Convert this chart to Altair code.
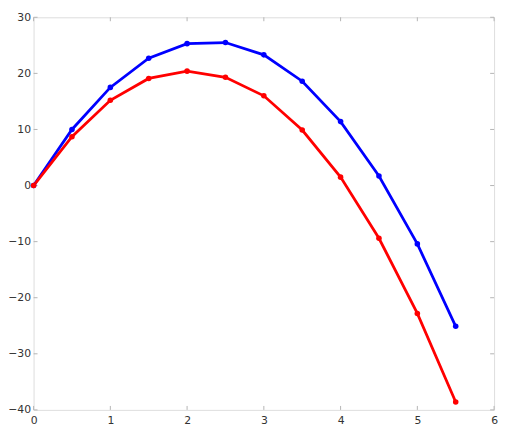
import altair as alt
import pandas as pd

x_vals = [0, 0.5, 1, 1.5, 2, 2.5, 3, 3.5, 4, 4.5, 5, 5.5]
blue_vals = [0, 10.0, 17.5, 22.7, 25.3, 25.5, 23.3, 18.6, 11.4, 1.7, -10.4, -25.1]
red_vals = [0, 8.7, 15.2, 19.1, 20.4, 19.3, 16.0, 9.9, 1.5, -9.4, -22.8, -38.6]
x_ticks = [0, 1, 2, 3, 4, 5, 6]
y_ticks = [-40, -30, -20, -10, 0, 10, 20, 30]

W, H = 468, 399
TL = 4

rows = []
for xv, b, r in zip(x_vals, blue_vals, red_vals):
    rows.append({"x": xv, "y": b, "s": "blue"})
    rows.append({"x": xv, "y": r, "s": "red"})
df = pd.DataFrame(rows)

xs = alt.Scale(domain=[0, 6], nice=False, zero=False)
ys = alt.Scale(domain=[-40, 30], nice=False, zero=False)
col = alt.Scale(domain=["blue", "red"], range=["#0000ff", "#ff0000"])

xax = alt.Axis(values=x_ticks, format="d", domain=False, ticks=False, grid=False, labelFontSize=11,
               labelColor="#333333", labelPadding=5, labelFont="DejaVu Sans", title=None, labelFlush=False)
yax = alt.Axis(values=y_ticks, format="d", domain=False, ticks=False, grid=False, labelFontSize=11,
               labelColor="#333333", labelPadding=3, labelFont="DejaVu Sans", title=None, labelFlush=False)

lines = alt.Chart(df).mark_line(strokeWidth=2.8).encode(
    x=alt.X("x:Q", scale=xs, axis=xax),
    y=alt.Y("y:Q", scale=ys, axis=yax),
    color=alt.Color("s:N", scale=col, legend=None),
    detail="s:N",
)
points = alt.Chart(df).mark_point(filled=True, size=32, opacity=1, shape="circle").encode(
    x=alt.X("x:Q", scale=xs),
    y=alt.Y("y:Q", scale=ys),
    color=alt.Color("s:N", scale=col, legend=None),
)

xt = pd.DataFrame({"t": x_ticks})
yt = pd.DataFrame({"t": y_ticks})
tick_color = "#b4b4b4"
bot = alt.Chart(xt).mark_rule(color=tick_color, strokeWidth=1).encode(
    x=alt.X("t:Q", scale=xs), y=alt.value(H), y2=alt.value(H - TL))
top = alt.Chart(xt).mark_rule(color=tick_color, strokeWidth=1).encode(
    x=alt.X("t:Q", scale=xs), y=alt.value(0), y2=alt.value(TL))
left = alt.Chart(yt).mark_rule(color=tick_color, strokeWidth=1).encode(
    y=alt.Y("t:Q", scale=ys), x=alt.value(0), x2=alt.value(TL))
right = alt.Chart(yt).mark_rule(color=tick_color, strokeWidth=1).encode(
    y=alt.Y("t:Q", scale=ys), x=alt.value(W), x2=alt.value(W - TL))

chart = alt.layer(bot, top, left, right, lines, points).properties(
    width=W, height=H,
    autosize=alt.AutoSizeParams(type="none"),
    padding={"left": 26, "top": 6, "right": 5, "bottom": 18},
).configure_view(stroke="#b4b4b4", strokeWidth=1.5).configure(background="white")

chart.save("out.html", embed_options={"renderer": "svg", "actions": False})
